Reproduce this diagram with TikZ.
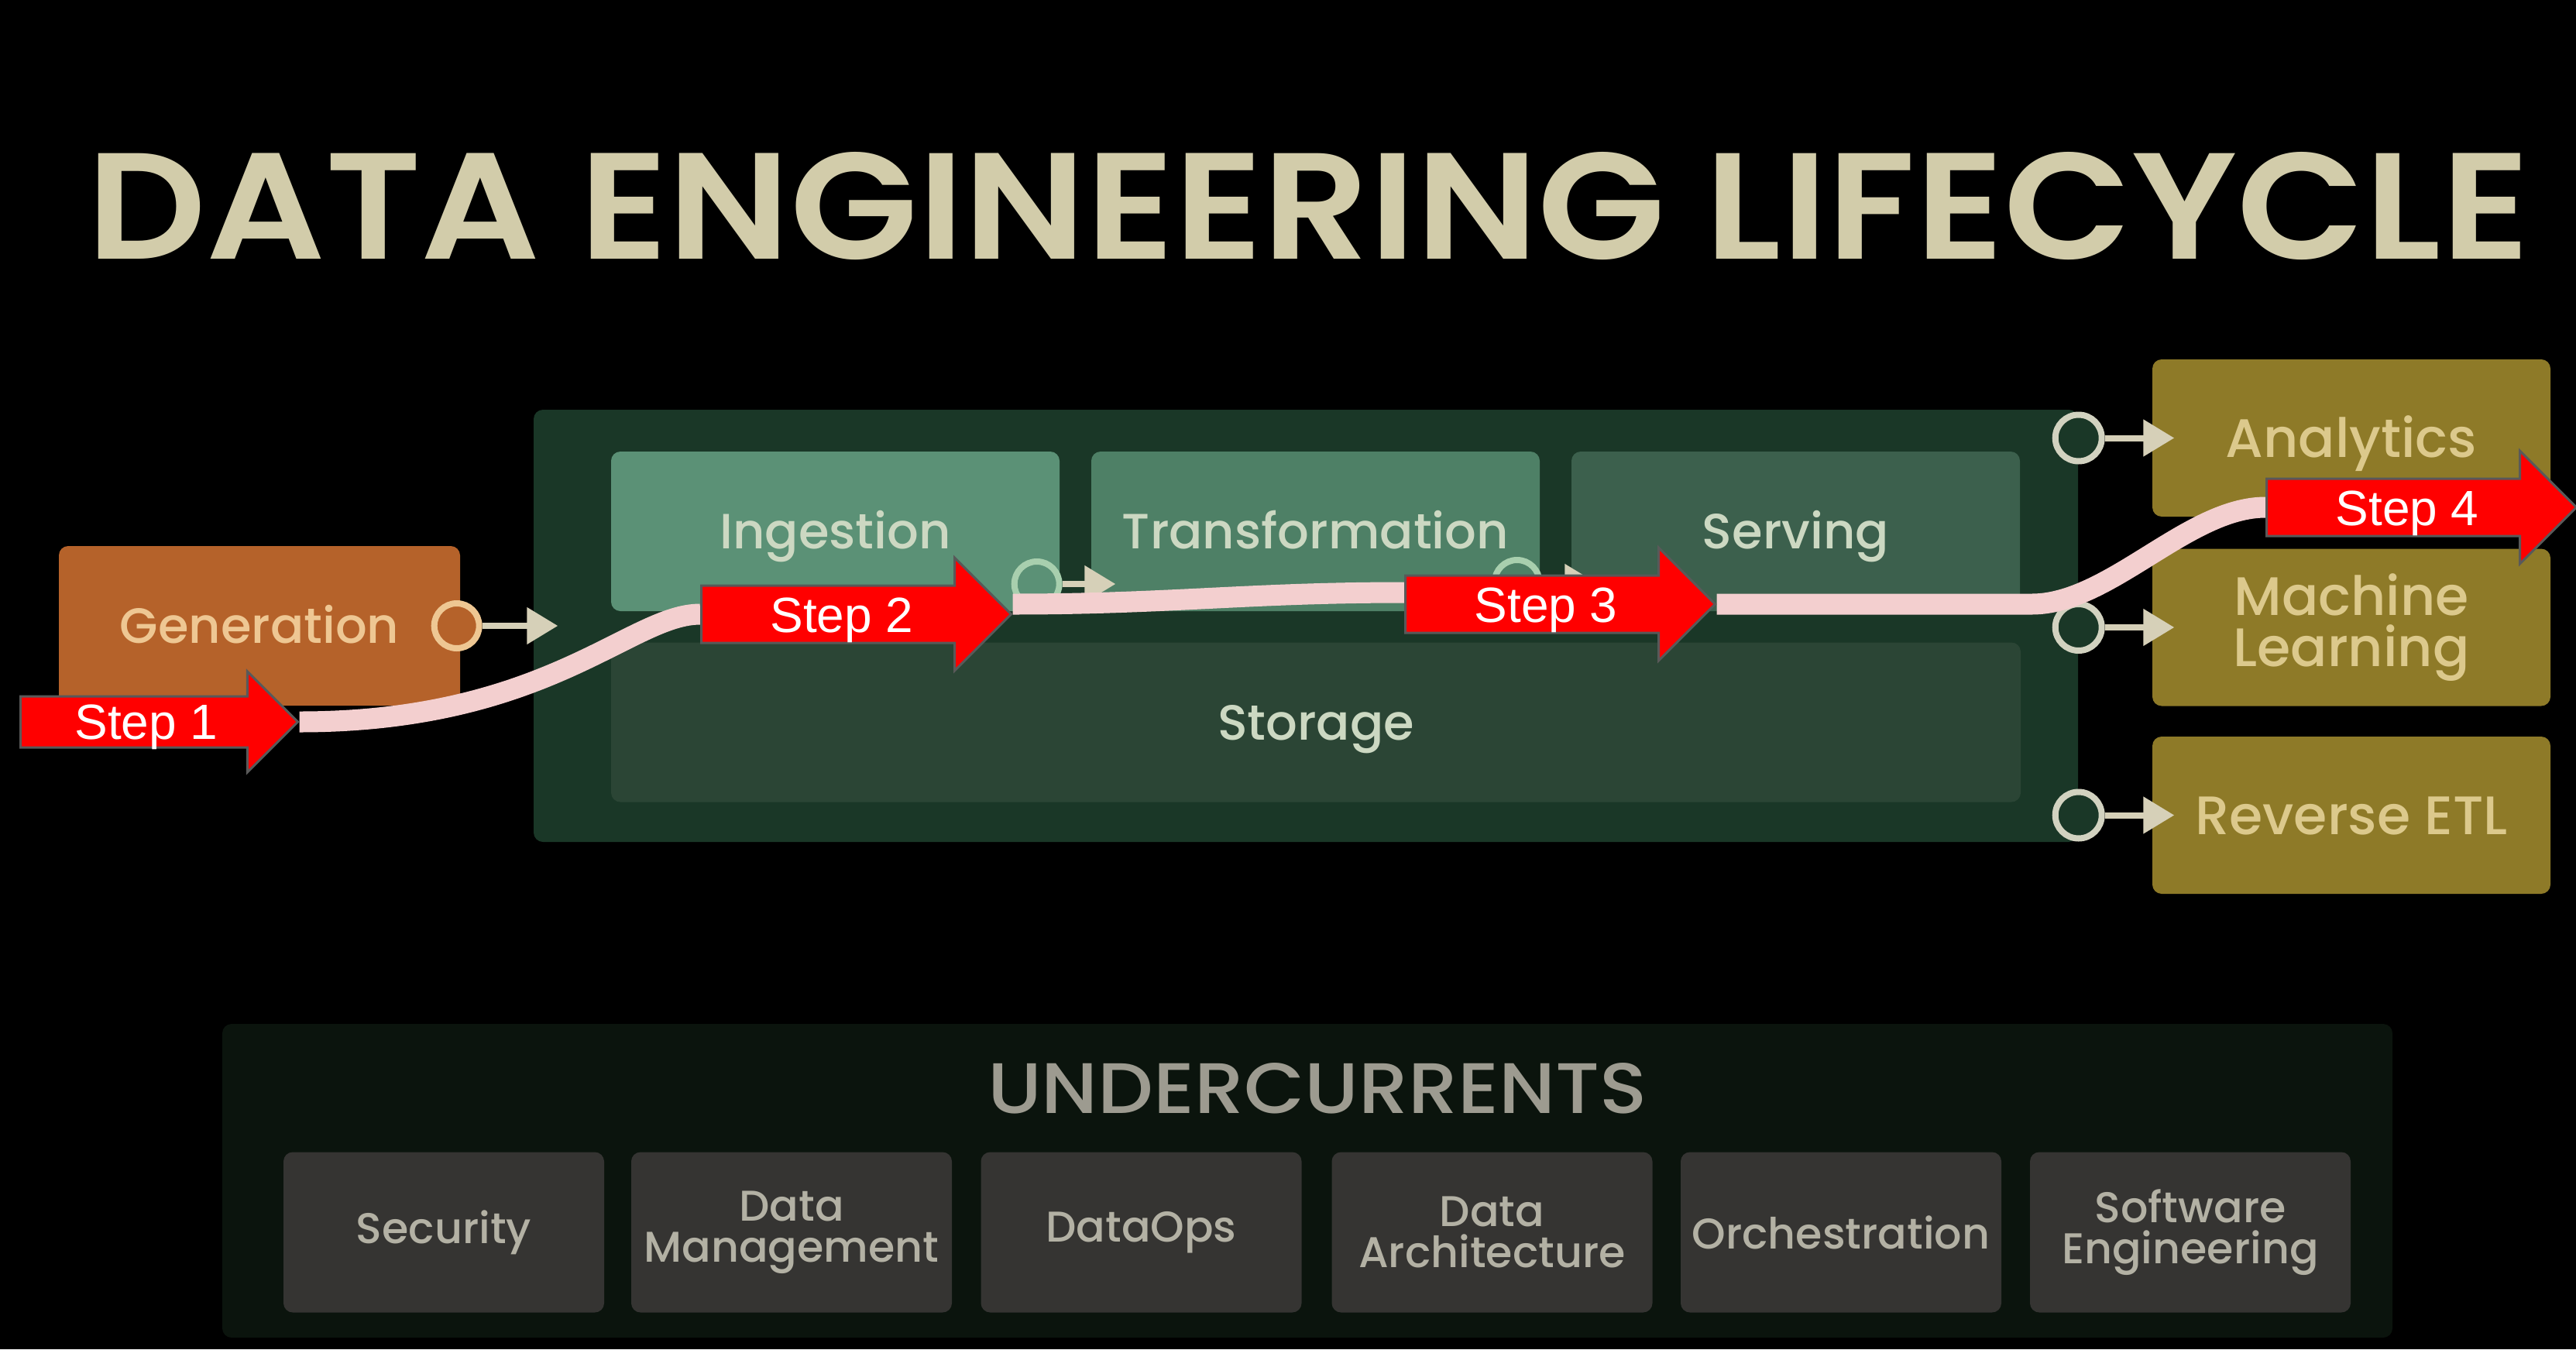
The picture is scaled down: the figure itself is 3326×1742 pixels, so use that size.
\documentclass[tikz,border=0pt]{standalone}
\usepackage{fontspec}
\setmainfont{Poppins}
\IfFontExistsTF{Poppins Medium}{\newfontfamily\medfont{Poppins Medium}}{\newfontfamily\medfont{Poppins}}
\IfFontExistsTF{Poppins SemiBold}{\newfontfamily\semifont{Poppins SemiBold}}{\newfontfamily\semifont{Poppins}}
\newfontfamily\arialfont{Liberation Sans}
\usepackage{graphicx}
\usepackage{tikz}
\usetikzlibrary{positioning, arrows.meta, calc, shapes.arrows}
\usepackage{xcolor}

\definecolor{coregreen}{HTML}{1A3727}
\definecolor{inggreen}{HTML}{5B9176}
\definecolor{tragreen}{HTML}{4E8066}
\definecolor{srvgreen}{HTML}{3C604D}
\definecolor{stogreen}{HTML}{2B4535}
\definecolor{genorange}{HTML}{B5622A}
\definecolor{olive}{HTML}{8E7A28}
\definecolor{olivetext}{HTML}{DCC98C}
\definecolor{paletext}{HTML}{CCD8C2}
\definecolor{titletext}{HTML}{D2CCAA}
\definecolor{peach}{HTML}{EEC793}
\definecolor{palegreen}{HTML}{A8CFAE}
\definecolor{portbeige}{HTML}{D2D2C0}
\definecolor{linkbeige}{HTML}{D6D0B8}
\definecolor{ucback}{HTML}{0B140D}
\definecolor{ucgray}{HTML}{353432}
\definecolor{uctext}{HTML}{B3B1A4}
\definecolor{uchead}{HTML}{9D9B90}
\definecolor{stepred}{HTML}{FF0000}
\definecolor{stepedge}{HTML}{595959}
\definecolor{flowpink}{HTML}{F3CFCF}

\pgfdeclarelayer{flow}
\pgfdeclarelayer{steps}
\pgfsetlayers{main,flow,steps}

\tikzset{
    capped/.style={
        text height=#1,
        text depth=0pt
    },
    stage/.style={
        rectangle,
        rounded corners=1.2mm,
        minimum width=57.9mm,
        minimum height=20.6mm,
        inner sep=0pt,
        text=paletext,
        font=\medfont\fontsize{18.2}{22}\selectfont,
        capped=4.5mm
    },
    usebox/.style={
        rectangle,
        rounded corners=1.2mm,
        fill=olive,
        minimum width=51.4mm,
        minimum height=20.3mm,
        inner sep=0pt,
        text=olivetext,
        align=center,
        font=\medfont\fontsize{19.9}{19}\selectfont
    },
    ucitem/.style={
        rectangle,
        rounded corners=1.2mm,
        fill=ucgray,
        minimum width=41.4mm,
        minimum height=20.7mm,
        inner sep=0pt,
        text=uctext,
        align=center,
        font=\medfont\fontsize{15.8}{15}\selectfont
    },
    port/.style={
        circle,
        line width=0.8mm,
        minimum size=5.8mm,
        inner sep=0pt
    },
    link/.style={
        line width=0.8mm,
        linkbeige,
        -{Triangle[length=4mm,width=4.6mm]},
        shorten >=-3.2mm
    },
    stepmark/.style={
        single arrow,
        single arrow head extend=3.6mm,
        single arrow tip angle=90,
        minimum height=40mm,
        inner ysep=1.25mm,
        inner xsep=0pt,
        capped=4.6mm,
        draw=stepedge,
        line width=0.3mm,
        fill=stepred,
        text=white,
        font=\arialfont\fontsize{18.2}{20}\selectfont,
        anchor=tail
    },
    flowline/.style={
        line width=2.7mm,
        flowpink
    }
}

\begin{document}
\begin{tikzpicture}[x=0.1mm, y=-0.1mm]

  \fill[black] (0,0) rectangle (3326,1742);
  \useasboundingbox (0,0) rectangle (3326,1742);

  % title
  \node[inner sep=0pt, text=titletext] (title) at (1689.5,266)
    {\resizebox{315.3mm}{13.8mm}{\semifont DATA ENGINEERING LIFECYCLE}};

  % lifecycle
  \node[rectangle, rounded corners=1.2mm, fill=genorange, minimum width=51.8mm,
        minimum height=20.6mm, inner sep=0pt, text=peach,
        font=\medfont\fontsize{18.2}{22}\selectfont, capped=4.5mm] (gen) at (335,808) {Generation};
  \node[rectangle, rounded corners=1.2mm, fill=coregreen, minimum width=199.4mm,
        minimum height=55.8mm] (core) at (1686,808) {};

  \node[stage, fill=inggreen] (ing) at (1078.5,686) {Ingestion};
  \node[stage, fill=tragreen] (tra) at (1698.5,686) {Transformation};
  \node[stage, fill=srvgreen] (srv) at (2318.5,686) {Serving};
  \node[stage, fill=stogreen, minimum width=182mm] (sto) at (1699,932.5) {Storage};

  \node[usebox, capped=4.9mm] (ana) at (3036,565.5) {Analytics};
  \node[usebox] (ml) at (3036,810) {Machine\\Learning};
  \node[usebox, capped=4.9mm] (retl) at (3036,1052.5) {Reverse ETL};

  % ports and links
  \node[port, draw=peach, fill=genorange] (gen-o) at ([xshift=-0.5mm]gen.east) {};
  \draw[link] (gen-o) -- (gen-o -| core.west);

  \node[port, draw=palegreen, fill=inggreen] (ing-o) at ([xshift=-3mm, yshift=-6.8mm]ing.east) {};
  \draw[link] (ing-o) -- (ing-o -| tra.west);
  \node[port, draw=palegreen, fill=tragreen] (tra-o) at ([xshift=-3mm, yshift=-6.6mm]tra.east) {};
  \draw[link] (tra-o) -- (tra-o -| srv.west);

  \foreach \out in {ana, ml, retl} {
    \node[port, draw=portbeige, fill=coregreen, minimum size=6mm] (\out-o) at (core.east |- \out) {};
    \draw[link, shorten >=-2.9mm] (\out-o) -- (\out.west);
  }

  % undercurrents
  \node[rectangle, rounded corners=1.2mm, fill=ucback, minimum width=280.2mm,
        minimum height=40.5mm] (uc) at (1688,1524.5) {};
  \node[inner sep=0pt, text=uchead] (uchead) at (1701,1405.5)
    {\resizebox{85.2mm}{6.5mm}{\medfont UNDERCURRENTS}};
  \foreach \name/\x/\txt in {sec/573/Security, dm/1022/{Data\\Management},
      ops/1473.5/DataOps, arch/1926.5/{Data\\Architecture},
      orch/2377/Orchestration, swe/2828/{Software\\Engineering}}
    \node[ucitem] (\name) at (\x,1591) {\txt};

  % steps
  \begin{pgfonlayer}{steps}
    \node[stepmark, minimum height=35.8mm, single arrow head extend=3.2mm,
          inner ysep=0.9mm, capped=4.5mm] (s1) at (25,932) {Step 1};
    \node[stepmark] (s2) at (904,793) {Step 2};
    \node[stepmark] (s3) at (1813,780) {Step 3};
    \node[stepmark] (s4) at (2925,655) {Step 4};
  \end{pgfonlayer}

  \begin{pgfonlayer}{flow}
    \draw[flowline] (s1.tip) .. controls +(320,0) and +(-90,0) .. (s2.tail);
    \draw[flowline] ([yshift=1.3mm]s2.tip) .. controls +(200,0) and +(-200,0) .. ([yshift=1.5mm]s3.tail);
    \draw[flowline] (s3.tip) -- ++(407,0) .. controls +(100,0) and +(-100,0) .. (s4.tail);
  \end{pgfonlayer}

\end{tikzpicture}
\end{document}
